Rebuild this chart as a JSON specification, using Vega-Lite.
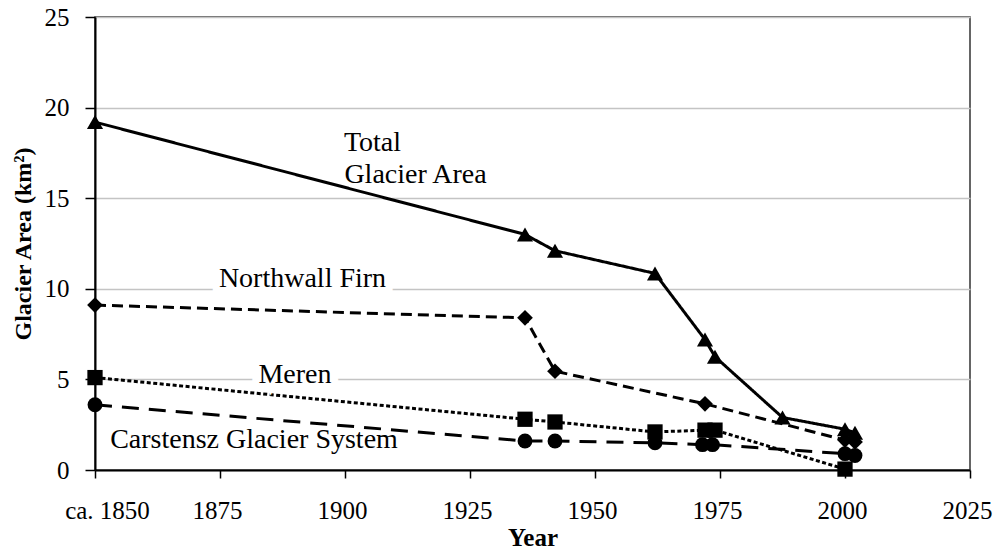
{
  "$schema": "https://vega.github.io/schema/vega-lite/v6.json",
  "width": 875,
  "height": 453,
  "autosize": "none",
  "padding": {"left": 95, "top": 17, "right": 25, "bottom": 87},
  "background": "white",
  "config": {
    "font": "Liberation Serif, Times New Roman, DejaVu Serif, serif",
    "view": {"stroke": "#333", "strokeWidth": 1.5},
    "axis": {
      "labelFont": "Liberation Serif, Times New Roman, DejaVu Serif, serif",
      "titleFont": "Liberation Serif, Times New Roman, DejaVu Serif, serif",
      "labelColor": "black",
      "titleColor": "black",
      "domainColor": "black",
      "tickColor": "black",
      "domainWidth": 2,
      "tickWidth": 1.5,
      "gridColor": "#c4c4c4",
      "gridWidth": 1.5
    }
  },
  "datasets": {
    "series": [
      {"series": "Total", "year": 1850, "area": 19.2},
      {"series": "Total", "year": 1936, "area": 13.0},
      {"series": "Total", "year": 1942, "area": 12.1},
      {"series": "Total", "year": 1962, "area": 10.85},
      {"series": "Total", "year": 1972, "area": 7.2},
      {"series": "Total", "year": 1974, "area": 6.25},
      {"series": "Total", "year": 1987.5, "area": 2.9},
      {"series": "Total", "year": 2000, "area": 2.25},
      {"series": "Total", "year": 2002, "area": 2.05},
      {"series": "Northwall Firn", "year": 1850, "area": 9.1},
      {"series": "Northwall Firn", "year": 1936, "area": 8.4},
      {"series": "Northwall Firn", "year": 1942, "area": 5.45},
      {"series": "Northwall Firn", "year": 1972, "area": 3.65},
      {"series": "Northwall Firn", "year": 2000, "area": 1.65},
      {"series": "Northwall Firn", "year": 2002, "area": 1.55},
      {"series": "Meren", "year": 1850, "area": 5.1},
      {"series": "Meren", "year": 1936, "area": 2.8},
      {"series": "Meren", "year": 1942, "area": 2.65},
      {"series": "Meren", "year": 1962, "area": 2.1},
      {"series": "Meren", "year": 1972, "area": 2.2},
      {"series": "Meren", "year": 1974, "area": 2.2},
      {"series": "Meren", "year": 2000, "area": 0.05},
      {"series": "Carstensz", "year": 1850, "area": 3.6},
      {"series": "Carstensz", "year": 1936, "area": 1.6},
      {"series": "Carstensz", "year": 1942, "area": 1.6},
      {"series": "Carstensz", "year": 1962, "area": 1.5},
      {"series": "Carstensz", "year": 1971.5, "area": 1.4},
      {"series": "Carstensz", "year": 1973.5, "area": 1.4},
      {"series": "Carstensz", "year": 2000, "area": 0.9},
      {"series": "Carstensz", "year": 2002, "area": 0.8}
    ],
    "labels": [
      {"label": "Total", "year": 1905.5, "area": 18.05, "halo": false},
      {"label": "Glacier Area", "year": 1914.1, "area": 16.28, "halo": false},
      {"label": "Northwall Firn", "year": 1891.5, "area": 10.54, "halo": true},
      {"label": "Meren", "year": 1890, "area": 5.24, "halo": true},
      {"label": "Carstensz Glacier System", "year": 1881.8, "area": 1.66, "halo": false}
    ]
  },
  "encoding": {
    "x": {
      "field": "year", "type": "quantitative",
      "scale": {"domain": [1850, 2025], "nice": false, "zero": false},
      "axis": {
        "values": [1850, 1875, 1900, 1925, 1950, 1975, 2000, 2025],
        "labelExpr": "datum.value == 1850 ? 'ca. 1850' : format(datum.value, 'd')",
        "labelFontSize": 25,
        "labelPadding": 20,
        "labelFlush": false,
        "labelOffset": {"condition": {"test": "datum.value == 1850", "value": 12}, "value": -3},
        "tickSize": 8,
        "grid": false,
        "title": "Year",
        "titleFontSize": 25,
        "titleFontWeight": "bold",
        "titlePadding": 2
      }
    },
    "y": {
      "field": "area", "type": "quantitative",
      "scale": {"domain": [0, 25], "nice": false},
      "axis": {
        "values": [0, 5, 10, 15, 20, 25],
        "labelFontSize": 25,
        "labelPadding": 16,
        "tickSize": 10,
        "grid": true,
        "title": "Glacier Area (km²)",
        "titleFontSize": 24,
        "titleFontWeight": "bold",
        "titlePadding": 9
      }
    }
  },
  "layer": [
    {
      "data": {"name": "series"},
      "mark": {"type": "line", "color": "black", "strokeWidth": 3},
      "encoding": {
        "detail": {"field": "series"},
        "order": {"field": "year"},
        "strokeDash": {
          "field": "series", "type": "nominal", "legend": null,
          "scale": {
            "domain": ["Total", "Northwall Firn", "Meren", "Carstensz"],
            "range": [[1, 0], [11, 6], [4, 2.5], [17, 10]]
          }
        }
      }
    },
    {
      "data": {"name": "series"},
      "mark": {"type": "point", "filled": true, "color": "black", "opacity": 1},
      "encoding": {
        "shape": {
          "field": "series", "type": "nominal", "legend": null,
          "scale": {
            "domain": ["Total", "Northwall Firn", "Meren", "Carstensz"],
            "range": ["triangle-up", "diamond", "square", "circle"]
          }
        },
        "size": {
          "field": "series", "type": "nominal", "legend": null,
          "scale": {
            "domain": ["Total", "Northwall Firn", "Meren", "Carstensz"],
            "range": [260, 220, 180, 190]
          }
        }
      }
    },
    {
      "data": {"name": "labels"},
      "transform": [{"filter": "datum.halo"}],
      "mark": {"type": "text", "fontSize": 28, "font": "Liberation Serif, Times New Roman, DejaVu Serif, serif", "stroke": "white", "strokeWidth": 14, "fill": "white", "baseline": "middle", "align": "center"},
      "encoding": {
        "text": {"field": "label"}
      }
    },
    {
      "data": {"name": "labels"},
      "mark": {"type": "text", "fontSize": 28, "font": "Liberation Serif, Times New Roman, DejaVu Serif, serif", "fill": "black", "baseline": "middle", "align": "center"},
      "encoding": {
        "text": {"field": "label"}
      }
    }
  ]
}
